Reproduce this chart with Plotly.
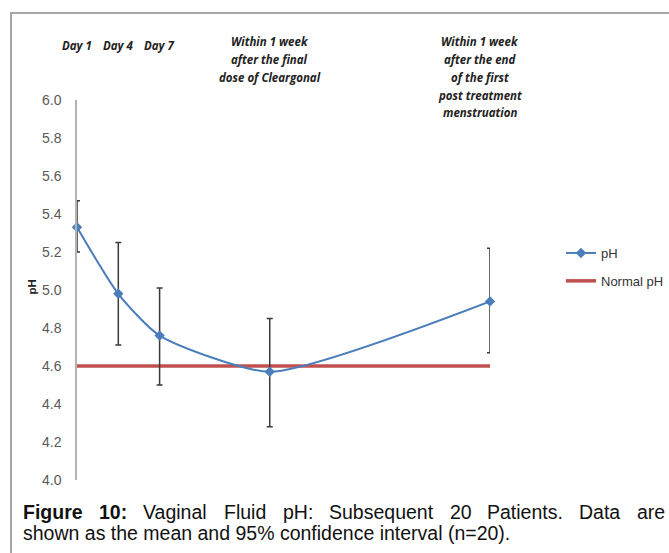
import plotly.graph_objects as go

# --- data ---
x_days = [1, 4, 7, 15, 31]
ph_mean = [5.33, 4.98, 4.76, 4.57, 4.94]
ph_upper = [5.47, 5.25, 5.01, 4.85, 5.22]
ph_lower = [5.20, 4.71, 4.50, 4.28, 4.67]
normal_x = [1, 31]
normal_ph = [4.6, 4.6]
y_ticks = [4.0, 4.2, 4.4, 4.6, 4.8, 5.0, 5.2, 5.4, 5.6, 5.8, 6.0]
top_labels = [["Day 1"], ["Day 4"], ["Day 7"],
              ["Within 1 week", "after the final", "dose of Cleargonal"],
              ["Within 1 week", "after the end", "of the first", "post treatment", "menstruation"]]
top_label_x = [1, 4, 7, 15, 30.3]
caption_line1 = "Figure 10: Vaginal Fluid pH: Subsequent 20 Patients. Data are"
caption_line2 = "shown as the mean and 95% confidence interval (n=20)."

err_plus = [u - m for u, m in zip(ph_upper, ph_mean)]
err_minus = [m - l for m, l in zip(ph_mean, ph_lower)]

W, H = 669, 553
L, R, T, B = 77, 179, 100, 73
pw, phh = W - L - R, H - T - B

def px(xp):
    return (xp - L) / pw

def py(yp):
    return (H - B - yp) / phh

# Arial / Liberation Sans advance widths (per 1000 em)
REG = {' ': 278, '.': 278, ':': 278, '(': 333, ')': 333, '=': 584, '%': 889,
       'a': 556, 'b': 556, 'c': 500, 'd': 556, 'e': 556, 'f': 278, 'g': 556, 'h': 556,
       'i': 222, 'j': 222, 'k': 500, 'l': 222, 'm': 833, 'n': 556, 'o': 556, 'p': 556,
       'q': 556, 'r': 333, 's': 500, 't': 278, 'u': 556, 'v': 500, 'w': 722, 'x': 500,
       'y': 500, 'z': 500, 'D': 722, 'F': 611, 'H': 722, 'P': 667, 'S': 667, 'V': 667}
BOLD = {'F': 611, 'i': 278, 'g': 611, 'u': 611, 'r': 389, 'e': 556, '1': 556, '0': 556,
        ':': 333, ' ': 278}

def text_w(s, size, bold=False):
    tbl = BOLD if bold else REG
    return sum(tbl.get(c, 556) for c in s) * size / 1000.0

fig = go.Figure()
fig.add_trace(go.Scatter(
    x=normal_x, y=normal_ph, name="Normal pH", mode="lines",
    line=dict(color="#c0504d", width=3.5), legendgroup="b", legendrank=2,
))
fig.add_trace(go.Scatter(
    x=x_days, y=ph_mean, name="pH", mode="lines+markers",
    line=dict(color="#4a7ebb", width=2, shape="spline", smoothing=0.6),
    marker=dict(symbol="diamond", size=8, color="#4a7ebb"),
    error_y=dict(type="data", symmetric=False, array=err_plus, arrayminus=err_minus,
                 color="#3a3a3a", thickness=1.5, width=3),
    legendgroup="a", legendrank=1, cliponaxis=False,
))

ann = []
for lines, xv in zip(top_labels, top_label_x):
    y0 = 45 if len(lines) == 1 else 42
    for i, t in enumerate(lines):
        ann.append(dict(x=xv, xref="x", y=py(y0 + 17.7 * i), yref="paper",
                        xanchor="center", yanchor="middle",
                        text="<b><i>%s</i></b>" % t, showarrow=False,
                        font=dict(family="Open Sans", size=11.5, color="#222")))
ann.append(dict(x=px(31.5), y=py(287), xref="paper", yref="paper", text="<b>pH</b>",
                textangle=-90, showarrow=False, xanchor="center", yanchor="middle",
                font=dict(family="Liberation Sans", size=11.5, color="#222")))

# caption, first line justified between x=22 and x=664
CAP_SIZE = 19.5
CAP_FONT = dict(family="Liberation Sans", size=CAP_SIZE, color="#111")
words = caption_line1.split(" ")
bold_n = 2
widths = [text_w(w, CAP_SIZE, bold=(i < bold_n)) for i, w in enumerate(words)]
gap = (664 - 22 - sum(widths)) / (len(words) - 1)
xcur = 22
for i, w in enumerate(words):
    t = "<b>%s</b>" % w if i < bold_n else w
    ann.append(dict(x=px(xcur - 1), y=py(512), xref="paper", yref="paper",
                    xanchor="left", yanchor="middle", showarrow=False,
                    text=t, font=CAP_FONT))
    xcur += widths[i] + gap
ann.append(dict(x=px(21), y=py(533), xref="paper", yref="paper", xanchor="left",
                yanchor="middle", showarrow=False, align="left",
                text=caption_line2, font=CAP_FONT))

fig.update_layout(
    width=W, height=H, margin=dict(l=L, r=R, t=T, b=B, autoexpand=False),
    paper_bgcolor="white", plot_bgcolor="white",
    showlegend=True,
    legend=dict(x=px(561), y=py(238), xanchor="left", yanchor="top",
                font=dict(family="Liberation Sans", size=13, color="#333"),
                tracegroupgap=8, itemwidth=30, traceorder="grouped",
                bgcolor="rgba(0,0,0,0)"),
    annotations=ann,
    shapes=[dict(type="rect", xref="paper", yref="paper",
                 x0=px(11), x1=px(700), y0=py(600), y1=py(13),
                 line=dict(color="#a6a6a6", width=2), layer="below")],
    xaxis=dict(range=[1, 31], visible=False, fixedrange=True),
    yaxis=dict(range=[4.0, 6.0], tickvals=y_ticks, tickformat=".1f",
               showgrid=False, zeroline=False, showline=True, linecolor="#b3b3b3",
               linewidth=1.5, ticks="outside", ticklen=11, tickcolor="rgba(0,0,0,0)",
               tickfont=dict(family="Liberation Sans", size=14, color="#595959")),
)

fig.write_html("out.html", config={"displayModeBar": False},
               post_script="document.body.style.margin='0';document.body.style.overflow='hidden';")
